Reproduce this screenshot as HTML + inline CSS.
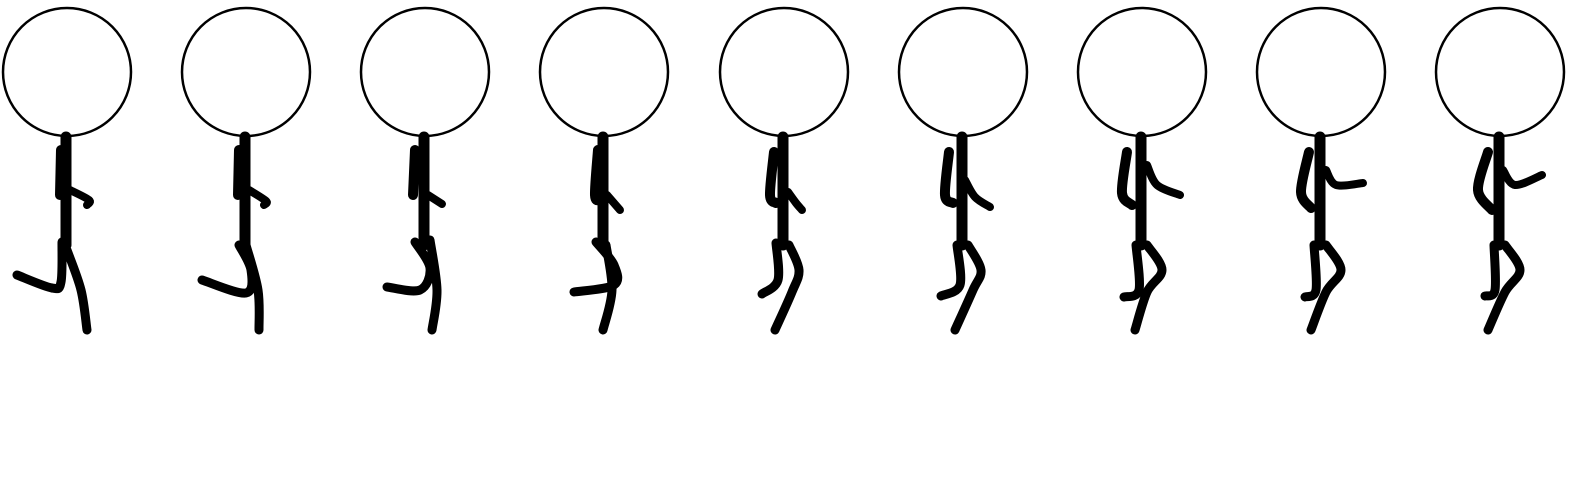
<!DOCTYPE html>
<html><head><meta charset="utf-8"><style>
html,body{margin:0;padding:0;background:#fff;width:1574px;height:500px;overflow:hidden}
svg{display:block}
</style></head><body>
<svg id="s" width="1574" height="500" xmlns="http://www.w3.org/2000/svg"></svg>
<script>
const centers=[67,246,425,604,784,963,1142,1321,1500];
const backArms=[
 [[-6,150],[-7,195]],
 [[-7,150],[-8,195]],
 [[-10,150],[-12,195]],
 [[-6,150],[-9,195],[-4,200]],
 [[-10,152],[-14,195],[-8,203]],
 [[-14,152],[-18,195],[-10,203]],
 [[-15,152],[-20,193],[-10,205]],
 [[-12,152],[-20,192],[-10,208]],
 [[-12,152],[-22,190],[-8,210]]];
const foreArms=[
 [[3,190],[22,200],[20,205]],
 [[3,190],[20,201],[18,205]],
 [[3,195],[17,204]],
 [[3,195],[16,210]],
 [[4,192],[12,203],[18,210]],
 [[2,180],[12,197],[27,207]],
 [[5,165],[15,185],[38,195]],
 [[5,170],[15,185],[42,183]],
 [[3,170],[15,185],[42,175]]];
const legsA=[
 [[-5,242],[-6,282],[-15,288],[-50,275]],
 [[-7,245],[5,270],[0,293],[-44,280]],
 [[-10,242],[5,268],[-5,290],[-38,287]],
 [[-8,242],[10,265],[10,285],[-30,292]],
 [[-8,243],[-6,280],[-22,294]],
 [[-6,245],[-3,285],[-22,296]],
 [[-6,245],[-3,290],[-18,297]],
 [[-7,245],[-5,290],[-16,297]],
 [[-6,245],[-5,290],[-15,296]]];
const legsB=[
 [[0,250],[14,290],[20,330]],
 [[0,245],[12,290],[13,330]],
 [[5,240],[12,290],[7,330]],
 [[2,245],[8,290],[-1,330]],
 [[5,245],[15,270],[8,292],[-9,330]],
 [[5,245],[18,270],[10,290],[-8,330]],
 [[5,245],[20,270],[5,292],[-7,330]],
 [[5,245],[20,270],[5,292],[-10,330]],
 [[5,245],[20,270],[5,292],[-12,330]]];
const s=document.getElementById('s');
const NS='http://www.w3.org/2000/svg';
function smooth(cx,pts){
 const P=pts.map(q=>[cx+q[0],q[1]]);
 let d='M'+P[0][0]+','+P[0][1];
 for(let i=0;i<P.length-1;i++){
  const p0=P[i-1]||P[i],p1=P[i],p2=P[i+1],p3=P[i+2]||p2;
  const c1=[p1[0]+(p2[0]-p0[0])/6,p1[1]+(p2[1]-p0[1])/6];
  const c2=[p2[0]-(p3[0]-p1[0])/6,p2[1]-(p3[1]-p1[1])/6];
  d+=' C'+c1[0]+','+c1[1]+' '+c2[0]+','+c2[1]+' '+p2[0]+','+p2[1];
 }
 return d;
}
function limb(cx,pts,w,name){
 const p=document.createElementNS(NS,'path');
 p.setAttribute('d',smooth(cx,pts));
 p.setAttribute('fill','none');p.setAttribute('stroke','#000');
 p.setAttribute('stroke-width',w);p.setAttribute('stroke-linecap','round');p.setAttribute('stroke-linejoin','round');
 
 
 s.appendChild(p);
}
centers.forEach((cx,i)=>{
 const c=document.createElementNS(NS,'circle');
 c.setAttribute('cx',cx);c.setAttribute('cy',72);c.setAttribute('r',64);
 c.setAttribute('fill','#fff');c.setAttribute('stroke','#000');c.setAttribute('stroke-width',2.5);
 
 
 s.appendChild(c);
 limb(cx,backArms[i],10,'back-arm');
 limb(cx,legsA[i],9,'back-leg');
 limb(cx,[[-1,137],[-1,245]],11,'torso');
 limb(cx,foreArms[i],8,'front-arm');
 limb(cx,legsB[i],9,'front-leg');
});
</script>
</body></html>
